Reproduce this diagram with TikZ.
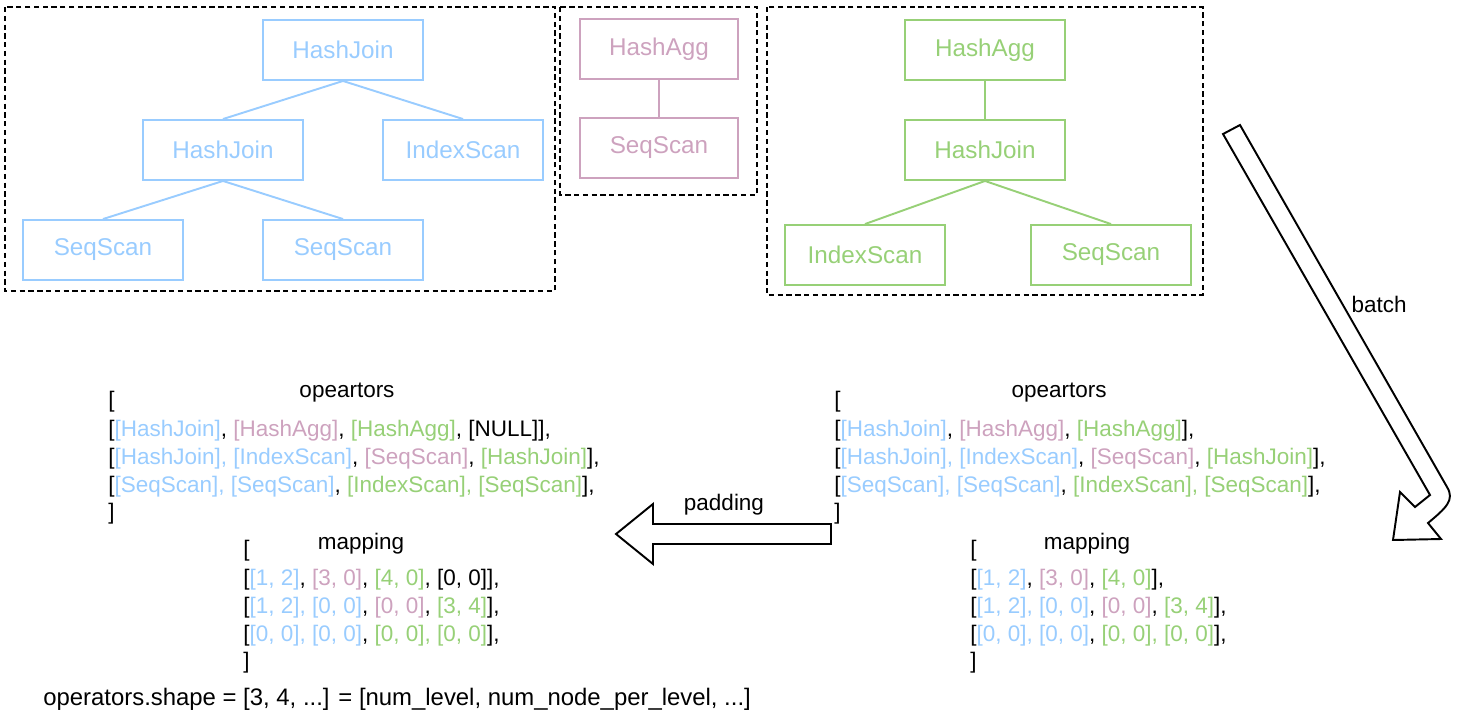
\documentclass[tikz,border=0pt]{standalone}
\usepackage{fontspec}
\setmainfont{Liberation Sans}
\definecolor{opblue}{HTML}{99CCFF}
\definecolor{oppink}{HTML}{CDA2BE}
\definecolor{opgreen}{HTML}{97D077}

\begin{document}
\begin{tikzpicture}[x=0.02cm, y=-0.02cm,
    opbox/.style={draw, line width=1.1pt, minimum width=3.2cm, minimum height=1.2cm, inner sep=0pt, font=\fontsize{13.8}{15}\selectfont},
    treeedge/.style={line width=1.1pt},
    dashframe/.style={draw, line width=1.1pt, dash pattern=on 3pt off 2pt},
    listrow/.style={anchor=base west, inner sep=0pt, font=\fontsize{12.8}{15}\selectfont},
    listhead/.style={anchor=base, inner sep=0pt, font=\fontsize{12.8}{15}\selectfont},
    bigarrow/.style={draw, line width=1.1pt, fill=white, line join=miter}]

    \useasboundingbox (0,0) rectangle (1458,714);

    % Dashed frames round the three plans
    \draw[dashframe] (5,7) rectangle (555,291);
    \draw[dashframe] (560,7) rectangle (757,195);
    \draw[dashframe] (767,7) rectangle (1203,295);

    % Blue plan
    \node[opbox, opblue] (b1) at (343,50) {HashJoin};
    \node[opbox, opblue] (b2) at (223,150) {HashJoin};
    \node[opbox, opblue] (b3) at (463,150) {IndexScan};
    \node[opbox, opblue] (b4) at (103,250) {SeqScan};
    \node[opbox, opblue] (b5) at (343,250) {SeqScan};
    \draw[treeedge, opblue] (b1.south) -- (b2.north);
    \draw[treeedge, opblue] (b1.south) -- (b3.north);
    \draw[treeedge, opblue] (b2.south) -- (b4.north);
    \draw[treeedge, opblue] (b2.south) -- (b5.north);

    % Pink plan
    \node[opbox, oppink, minimum width=3.16cm] (p1) at (659,49) {HashAgg};
    \node[opbox, oppink, minimum width=3.16cm] (p2) at (659,148) {SeqScan};
    \draw[treeedge, oppink] (p1.south) -- (p2.north);

    % Green plan
    \node[opbox, opgreen] (g1) at (985,50) {HashAgg};
    \node[opbox, opgreen] (g2) at (985,150) {HashJoin};
    \node[opbox, opgreen] (g3) at (865,255) {IndexScan};
    \node[opbox, opgreen] (g4) at (1111,255) {SeqScan};
    \draw[treeedge, opgreen] (g1.south) -- (g2.north);
    \draw[treeedge, opgreen] (g2.south) -- (g3.north);
    \draw[treeedge, opgreen] (g2.south) -- (g4.north);

    % Batch arrow
    \draw[bigarrow] (1223,134) -- (1430,495) -- (1415,507) -- (1400,492) -- (1393,540)
        -- (1441,539) -- (1428,523) .. controls (1446,508) and (1455,500) .. (1447,487)
        -- (1240,125) -- cycle;
    \node[inner sep=0pt, font=\fontsize{12.8}{15}\selectfont] (batch) at (1379,304) {batch};

    % Batched operators and mapping (right)
    \node[listhead] (rophead) at (1059,397) {opeartors};
    \node[listrow] (rop0) at (834,407) {[};
    \node[listrow] (rop1) at (834,436) {[\textcolor{opblue}{[HashJoin]}, \textcolor{oppink}{[HashAgg]}, \textcolor{opgreen}{[HashAgg]}],};
    \node[listrow] (rop2) at (834,464) {[\textcolor{opblue}{[HashJoin], [IndexScan]}, \textcolor{oppink}{[SeqScan]}, \textcolor{opgreen}{[HashJoin]}],};
    \node[listrow] (rop3) at (834,492) {[\textcolor{opblue}{[SeqScan], [SeqScan]}, \textcolor{opgreen}{[IndexScan], [SeqScan]}],};
    \node[listrow] (rop4) at (834,519) {]};

    \node[listhead] (rmaphead) at (1087,549) {mapping};
    \node[listrow] (rmap0) at (970,556) {[};
    \node[listrow] (rmap1) at (970,585) {[\textcolor{opblue}{[1, 2]}, \textcolor{oppink}{[3, 0]}, \textcolor{opgreen}{[4, 0]}],};
    \node[listrow] (rmap2) at (970,613) {[\textcolor{opblue}{[1, 2], [0, 0]}, \textcolor{oppink}{[0, 0]}, \textcolor{opgreen}{[3, 4]}],};
    \node[listrow] (rmap3) at (970,641) {[\textcolor{opblue}{[0, 0], [0, 0]}, \textcolor{opgreen}{[0, 0], [0, 0]}],};
    \node[listrow] (rmap4) at (970,668) {]};

    % Padding arrow
    \draw[bigarrow] (831,524) -- (653,524) -- (653,504) -- (616,534) -- (653,564)
        -- (653,544) -- (831,544) -- cycle;
    \node[inner sep=0pt, font=\fontsize{12.8}{15}\selectfont] (padding) at (724,505) {padding};

    % Padded operators and mapping (left)
    \node[listhead] (lophead) at (347,397) {opeartors};
    \node[listrow] (lop0) at (108,407) {[};
    \node[listrow] (lop1) at (108,436) {[\textcolor{opblue}{[HashJoin]}, \textcolor{oppink}{[HashAgg]}, \textcolor{opgreen}{[HashAgg]}, [NULL]],};
    \node[listrow] (lop2) at (108,464) {[\textcolor{opblue}{[HashJoin], [IndexScan]}, \textcolor{oppink}{[SeqScan]}, \textcolor{opgreen}{[HashJoin]}],};
    \node[listrow] (lop3) at (108,492) {[\textcolor{opblue}{[SeqScan], [SeqScan]}, \textcolor{opgreen}{[IndexScan], [SeqScan]}],};
    \node[listrow] (lop4) at (108,519) {]};

    \node[listhead] (lmaphead) at (361,549) {mapping};
    \node[listrow] (lmap0) at (243,556) {[};
    \node[listrow] (lmap1) at (243,585) {[\textcolor{opblue}{[1, 2]}, \textcolor{oppink}{[3, 0]}, \textcolor{opgreen}{[4, 0]}, [0, 0]],};
    \node[listrow] (lmap2) at (243,613) {[\textcolor{opblue}{[1, 2], [0, 0]}, \textcolor{oppink}{[0, 0]}, \textcolor{opgreen}{[3, 4]}],};
    \node[listrow] (lmap3) at (243,641) {[\textcolor{opblue}{[0, 0], [0, 0]}, \textcolor{opgreen}{[0, 0], [0, 0]}],};
    \node[listrow] (lmap4) at (243,668) {]};

    % Shape note
    \node[listrow, font=\fontsize{13.6}{15}\selectfont] (shape) at (43,705) {operators.shape = [3, 4, ...] = [num\_level, num\_node\_per\_level, ...]};

\end{tikzpicture}
\end{document}
